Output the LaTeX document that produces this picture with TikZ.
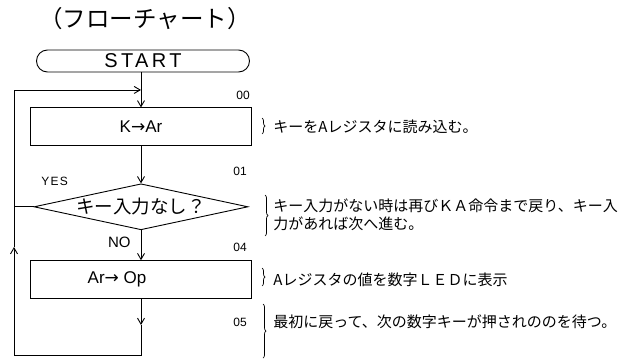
\documentclass[tikz,border=0pt]{standalone}
\usepackage{fontspec}
\setmainfont{Liberation Sans}
\newfontfamily\jpfont{Noto Sans CJK JP}
\newfontfamily\symfont{DejaVu Sans}
\newcommand{\toarr}{{\symfont →}}
\usetikzlibrary{arrows.meta,positioning,shapes.geometric,shapes.misc,decorations.pathreplacing,calc}

\begin{document}
\begin{tikzpicture}[
  x=1pt,y=1pt,
  line width=0.9pt,
  term/.style={rounded rectangle,draw,minimum width=213pt,minimum height=22pt,inner sep=0pt,font=\fontsize{20}{20}\selectfont\addfontfeature{LetterSpace=17}},
  proc/.style={rectangle,draw,minimum width=221pt,minimum height=38pt,inner sep=0pt,font=\fontsize{17}{17}\selectfont},
  test/.style={diamond,draw,aspect=4.65,minimum width=214pt,minimum height=46pt,inner sep=0pt,font=\jpfont\fontsize{18.5}{18.5}\selectfont},
  note/.style={anchor=west,align=left,inner sep=0pt,font=\jpfont\fontsize{15}{18}\selectfont},
  stepno/.style={inner sep=0pt,font=\fontsize{12}{12}\selectfont},
  lbl/.style={inner sep=0pt,font=\fontsize{15}{15}\selectfont},
  arr/.style={-{Straight Barb[length=6pt,width=7pt]}},
  brc/.style={decorate,decoration={brace,amplitude=3pt},line width=0.7pt}
]
\useasboundingbox (0,0) rectangle (623,-361);
\node[font=\jpfont\fontsize{23.5}{24}\selectfont] (title) at (145,-19) {（フローチャート）};
\node[term] (start) at (143,-61) {START};
\node[proc,below=35pt of start,xshift=-2pt] (read) {K\toarr Ar};
\node[test,below=37pt of read] (keychk) {キー入力なし？};
\node[proc,below=30pt of keychk] (show) {Ar\toarr\ Op\hspace*{48pt}};

% step numbers and branch labels
\node[stepno] (n00) at (243,-95) {00};
\node[stepno] (n01) at (240,-171) {01};
\node[stepno] (n04) at (240,-247) {04};
\node[stepno] (n05) at (240,-322) {05};
\node[lbl,font=\fontsize{12}{12}\selectfont\addfontfeature{LetterSpace=10}] (yes) at ([shift={(21pt,25pt)}]keychk.west) {YES};

% notes
\node[note,right=21pt of read] (note1) {キーをAレジスタに読み込む。};
\node[note] (note2) at (273,-215) {キー入力がない時は再びＫＡ命令まで戻り、キー入\\力があれば次へ進む。};
\node[note,right=21pt of show] (note3) {Aレジスタの値を数字ＬＥＤに表示};
\node[note] (note4) at (273,-322) {最初に戻って、次の数字キーが押されののを待つ。};

% loop points
\coordinate (entry) at ($(start.south)!0.5!(read.north)$);
\coordinate (loopTL) at (14,-89);
\coordinate (loopUp) at (14,-247);
\coordinate (loopBL) at (14,-355);
\coordinate (loopBR) at (show.south |- loopBL);
\coordinate (mid5) at (show.south |- 0,-325);
\coordinate (yesJ) at (keychk.west -| loopTL);

\draw[arr] (start.south -| read) -- (read);
\draw[arr] (read) -- (keychk);
\draw[arr] (keychk) -- node[lbl,left=10pt,pos=0.4]{NO} (show);
\draw[arr] (show) -- (mid5);
\draw (mid5) -- (loopBR) -- (loopBL);
\draw[arr] (loopBL) -- (loopUp);
\draw[arr] (loopUp) |- (entry -| read);
\draw (keychk.west) -- (yesJ);

% braces
\draw[brc] (262,-118) -- (262,-134);
\draw[brc] (265,-195) -- (265,-236);
\draw[brc] (262,-268) -- (262,-286);
\draw[brc] (263,-304) -- (263,-358);
\end{tikzpicture}
\end{document}
